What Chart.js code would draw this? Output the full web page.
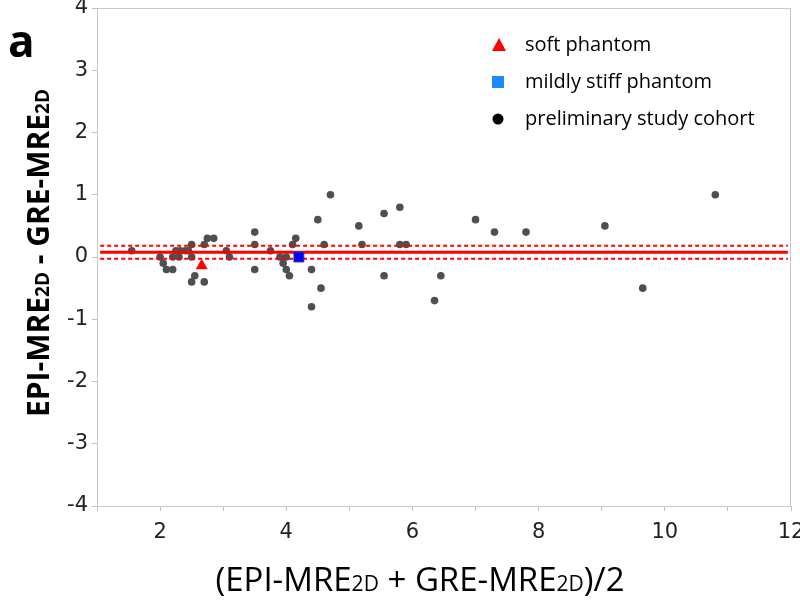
<!DOCTYPE html>
<html>
<head>
<meta charset="utf-8">
<script src="https://cdn.jsdelivr.net/npm/chart.js@4"></script>
<style>
  body { margin: 0; background: #fff; }
  canvas { display: block; }
</style>
</head>
<body>
<canvas id="myChart" width="800" height="603"></canvas>
<script>
// preliminary study cohort: mean of the two methods vs difference
const cohortX = [1.55, 2.0, 2.05, 2.1, 2.2, 2.2, 2.25, 2.3, 2.32, 2.4, 2.45, 2.5, 2.5, 2.5, 2.55,
  2.7, 2.7, 2.75, 2.85, 3.05, 3.1, 3.5, 3.5, 3.5, 3.75, 3.9, 3.95, 4.0, 4.0, 4.05, 4.1, 4.15,
  4.4, 4.4, 4.5, 4.55, 4.6, 4.7, 5.15, 5.2, 5.55, 5.55, 5.8, 5.8, 5.9, 6.35, 6.45, 7.0, 7.3,
  7.8, 9.05, 9.65, 10.8];
const cohortY = [0.1, 0.0, -0.1, -0.2, -0.2, 0.0, 0.1, 0.0, 0.1, 0.1, 0.1, 0.2, 0.0, -0.4, -0.3,
  -0.4, 0.2, 0.3, 0.3, 0.1, 0.0, 0.4, 0.2, -0.2, 0.1, 0.0, -0.1, 0.0, -0.2, -0.3, 0.2, 0.3,
  -0.2, -0.8, 0.6, -0.5, 0.2, 1.0, 0.5, 0.2, 0.7, -0.3, 0.8, 0.2, 0.2, -0.7, -0.3, 0.6, 0.4,
  0.4, 0.5, -0.5, 1.0];

const softX = [2.66];
const softY = [-0.14];
const stiffX = [4.2];
const stiffY = [0.0];

// bias line and its limits
const biasMean = 0.075;
const biasUpper = 0.18;
const biasLower = -0.03;
const lineX = [1.05, 11.95];

const legendLabels = ['soft phantom', 'mildly stiff phantom', 'preliminary study cohort'];

const pts = (xs, ys) => xs.map((x, i) => ({ x: x, y: ys[i] }));
const hline = v => lineX.map(x => ({ x: x, y: v }));

const textFont = '"Open Sans", sans-serif';

function drawRich(ctx, parts, x, y) {
  // parts: [text, size, weight]; centred at x, baseline y
  let total = 0;
  parts.forEach(p => {
    ctx.font = p[2] + ' ' + p[1] + 'px ' + textFont;
    total += ctx.measureText(p[0]).width;
  });
  let cx = x - total / 2;
  parts.forEach(p => {
    ctx.font = p[2] + ' ' + p[1] + 'px ' + textFont;
    ctx.fillText(p[0], cx, y);
    cx += ctx.measureText(p[0]).width;
  });
}

const decor = {
  id: 'decor',
  beforeDatasetsDraw(chart) {
    const a = chart.chartArea;
    const ctx = chart.ctx;
    ctx.save();
    ctx.strokeStyle = '#c8c8c8';
    ctx.lineWidth = 1;
    ctx.strokeRect(a.left + 0.5, a.top + 0.5, a.right - a.left - 1, a.bottom - a.top);
    ctx.restore();
  },
  afterDraw(chart) {
    const ctx = chart.ctx;
    ctx.save();
    ctx.fillStyle = '#000';
    ctx.textBaseline = 'alphabetic';
    ctx.textAlign = 'left';

    // panel letter
    ctx.font = 'bold 44px ' + textFont;
    ctx.fillText('a', 8, 57);

    // x title
    drawRich(ctx, [['(EPI-MRE', 33, 'normal'], ['2D', 21, 'normal'], [' + GRE-MRE', 33, 'normal'],
      ['2D', 21, 'normal'], [')/2', 33, 'normal']], 420, 591);

    // y title
    ctx.save();
    ctx.translate(49, 253);
    ctx.rotate(-Math.PI / 2);
    drawRich(ctx, [['EPI-MRE', 30, 'bold'], ['2D', 19, 'bold'], [' - GRE-MRE', 30, 'bold'],
      ['2D', 19, 'bold']], 0, 0);
    ctx.restore();

    // legend
    const lx = 498, tx = 525, rows = [45, 82, 119];
    ctx.fillStyle = '#ff0000';
    ctx.beginPath();
    ctx.moveTo(lx + 1, rows[0] - 7);
    ctx.lineTo(lx + 8, rows[0] + 6);
    ctx.lineTo(lx - 6, rows[0] + 6);
    ctx.closePath();
    ctx.fill();
    ctx.fillStyle = '#1a8cff';
    ctx.fillRect(lx - 6, rows[1] - 6, 12, 12);
    ctx.fillStyle = '#000';
    ctx.beginPath();
    ctx.arc(lx, rows[2], 5.5, 0, Math.PI * 2);
    ctx.fill();

    ctx.font = '20px ' + textFont;
    ctx.textBaseline = 'middle';
    legendLabels.forEach((t, i) => ctx.fillText(t, tx, rows[i]));
    ctx.restore();
  }
};

const config = {
  type: 'scatter',
  data: {
    datasets: [
      {
        label: legendLabels[1],
        data: pts(stiffX, stiffY),
        pointStyle: 'rect',
        pointRadius: 7,
        backgroundColor: '#0000ff',
        borderColor: '#3030b0',
        borderWidth: 1
      },
      {
        label: legendLabels[0],
        data: pts(softX, softY),
        pointStyle: 'triangle',
        pointRadius: 7,
        backgroundColor: '#ff0000',
        borderColor: '#ff0000',
        borderWidth: 0
      },
      {
        type: 'line',
        label: 'mean',
        data: hline(biasMean),
        borderColor: '#ff0000',
        borderWidth: 3,
        pointRadius: 0
      },
      {
        type: 'line',
        label: 'upper',
        data: hline(biasUpper),
        borderColor: '#ff0000',
        borderWidth: 2,
        borderDash: [4, 3],
        pointRadius: 0
      },
      {
        type: 'line',
        label: 'lower',
        data: hline(biasLower),
        borderColor: '#ff0000',
        borderWidth: 2,
        borderDash: [4, 3],
        pointRadius: 0
      },
      {
        label: legendLabels[2],
        data: pts(cohortX, cohortY),
        pointStyle: 'circle',
        pointRadius: 3.8,
        backgroundColor: '#4f4f4f',
        borderWidth: 0
      }
    ]
  },
  options: {
    responsive: false,
    animation: false,
    devicePixelRatio: 1,
    layout: { padding: { left: 0, right: 9, top: 5, bottom: 0 } },
    plugins: {
      legend: { display: false },
      tooltip: { enabled: false }
    },
    scales: {
      x: {
        type: 'linear',
        min: 1,
        max: 12,
        afterFit(s) { s.height = 97; s.paddingLeft = 0; s.paddingRight = 0; },
        border: { color: '#c0c0c0' },
        grid: { drawOnChartArea: false, drawTicks: true, tickLength: 5, color: '#c0c0c0' },
        ticks: {
          stepSize: 1,
          padding: 9,
          maxRotation: 0,
          autoSkip: false,
          color: '#222',
          font: { family: '"DejaVu Sans", sans-serif', size: 21 },
          callback: v => (v % 2 === 0 ? v : '')
        }
      },
      y: {
        type: 'linear',
        min: -4,
        max: 4,
        afterFit(s) { s.width = 97; s.paddingTop = 0; s.paddingBottom = 0; },
        border: { color: '#c0c0c0' },
        grid: { drawOnChartArea: false, drawTicks: true, tickLength: 5, color: '#c0c0c0' },
        ticks: {
          stepSize: 1,
          padding: 4,
          color: '#222',
          font: { family: '"DejaVu Sans", sans-serif', size: 21 }
        }
      }
    }
  },
  plugins: [decor]
};

const myChart = new Chart(document.getElementById('myChart'), config);
</script>
</body>
</html>
